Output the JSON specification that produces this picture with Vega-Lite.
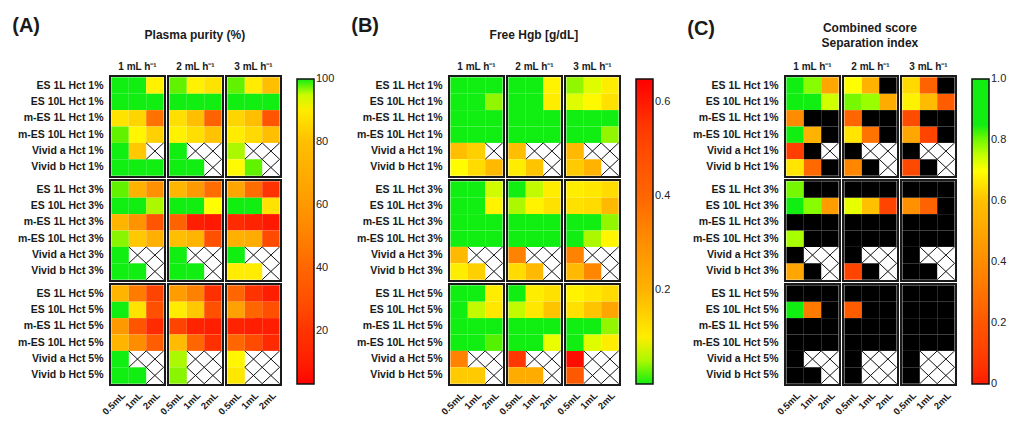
{
  "$schema": "https://vega.github.io/schema/vega-lite/v6.json",
  "padding": {"left": 12, "top": 16, "right": 0, "bottom": 0},
  "background": "white",
  "data": {"values": [
    {"p":"A","h":1,"f":1,"s":"ES 1L","a":98,"b":98,"c":91},
    {"p":"A","h":1,"f":1,"s":"ES 10L","a":99,"b":99,"c":99},
    {"p":"A","h":1,"f":1,"s":"m-ES 1L","a":88,"b":85,"c":44},
    {"p":"A","h":1,"f":1,"s":"m-ES 10L","a":96.5,"b":92,"c":84},
    {"p":"A","h":1,"f":1,"s":"Vivid a","a":99,"b":82},
    {"p":"A","h":1,"f":1,"s":"Vivid b","a":99,"b":99,"c":99},
    {"p":"A","h":1,"f":2,"s":"ES 1L","a":96.5,"b":91,"c":88},
    {"p":"A","h":1,"f":2,"s":"ES 10L","a":99,"b":99,"c":99},
    {"p":"A","h":1,"f":2,"s":"m-ES 1L","a":87,"b":80,"c":38},
    {"p":"A","h":1,"f":2,"s":"m-ES 10L","a":91,"b":87,"c":81},
    {"p":"A","h":1,"f":2,"s":"Vivid a","a":99},
    {"p":"A","h":1,"f":2,"s":"Vivid b","a":99,"b":99},
    {"p":"A","h":1,"f":3,"s":"ES 1L","a":96.5,"b":90,"c":80},
    {"p":"A","h":1,"f":3,"s":"ES 10L","a":99,"b":99,"c":99},
    {"p":"A","h":1,"f":3,"s":"m-ES 1L","a":85,"b":80,"c":32},
    {"p":"A","h":1,"f":3,"s":"m-ES 10L","a":90,"b":86,"c":80},
    {"p":"A","h":1,"f":3,"s":"Vivid a","a":95.5},
    {"p":"A","h":1,"f":3,"s":"Vivid b","a":93,"b":96.5},
    {"p":"A","h":3,"f":1,"s":"ES 1L","a":96.5,"b":73,"c":56},
    {"p":"A","h":3,"f":1,"s":"ES 10L","a":99,"b":99,"c":95.5},
    {"p":"A","h":3,"f":1,"s":"m-ES 1L","a":74,"b":58,"c":32},
    {"p":"A","h":3,"f":1,"s":"m-ES 10L","a":96,"b":82,"c":72},
    {"p":"A","h":3,"f":1,"s":"Vivid a","a":99},
    {"p":"A","h":3,"f":1,"s":"Vivid b","a":99,"b":99},
    {"p":"A","h":3,"f":2,"s":"ES 1L","a":75,"b":60,"c":42},
    {"p":"A","h":3,"f":2,"s":"ES 10L","a":99,"b":99,"c":94},
    {"p":"A","h":3,"f":2,"s":"m-ES 1L","a":38,"b":10,"c":8},
    {"p":"A","h":3,"f":2,"s":"m-ES 10L","a":80,"b":74,"c":30},
    {"p":"A","h":3,"f":2,"s":"Vivid a","a":97},
    {"p":"A","h":3,"f":2,"s":"Vivid b","a":99,"b":99},
    {"p":"A","h":3,"f":3,"s":"ES 1L","a":66,"b":42,"c":20},
    {"p":"A","h":3,"f":3,"s":"ES 10L","a":99,"b":99,"c":88},
    {"p":"A","h":3,"f":3,"s":"m-ES 1L","a":15,"b":12,"c":8},
    {"p":"A","h":3,"f":3,"s":"m-ES 10L","a":72,"b":70,"c":28},
    {"p":"A","h":3,"f":3,"s":"Vivid a","a":98},
    {"p":"A","h":3,"f":3,"s":"Vivid b","a":90,"b":90},
    {"p":"A","h":5,"f":1,"s":"ES 1L","a":74,"b":48,"c":25},
    {"p":"A","h":5,"f":1,"s":"ES 10L","a":99,"b":88,"c":30},
    {"p":"A","h":5,"f":1,"s":"m-ES 1L","a":60,"b":32,"c":15},
    {"p":"A","h":5,"f":1,"s":"m-ES 10L","a":74,"b":55,"c":36},
    {"p":"A","h":5,"f":1,"s":"Vivid a","a":99},
    {"p":"A","h":5,"f":1,"s":"Vivid b","a":99,"b":99},
    {"p":"A","h":5,"f":2,"s":"ES 1L","a":62,"b":50,"c":18},
    {"p":"A","h":5,"f":2,"s":"ES 10L","a":90,"b":82,"c":30},
    {"p":"A","h":5,"f":2,"s":"m-ES 1L","a":25,"b":12,"c":10},
    {"p":"A","h":5,"f":2,"s":"m-ES 10L","a":78,"b":40,"c":18},
    {"p":"A","h":5,"f":2,"s":"Vivid a","a":95.5},
    {"p":"A","h":5,"f":2,"s":"Vivid b","a":96},
    {"p":"A","h":5,"f":3,"s":"ES 1L","a":40,"b":20,"c":10},
    {"p":"A","h":5,"f":3,"s":"ES 10L","a":64,"b":40,"c":30},
    {"p":"A","h":5,"f":3,"s":"m-ES 1L","a":12,"b":10,"c":10},
    {"p":"A","h":5,"f":3,"s":"m-ES 10L","a":40,"b":28,"c":15},
    {"p":"A","h":5,"f":3,"s":"Vivid a","a":92},
    {"p":"A","h":5,"f":3,"s":"Vivid b","a":89},

    {"p":"B","h":1,"f":1,"s":"ES 1L","a":0.01,"b":0.01,"c":0.01},
    {"p":"B","h":1,"f":1,"s":"ES 10L","a":0.01,"b":0.01,"c":0.045},
    {"p":"B","h":1,"f":1,"s":"m-ES 1L","a":0.01,"b":0.01,"c":0.01},
    {"p":"B","h":1,"f":1,"s":"m-ES 10L","a":0.01,"b":0.01,"c":0.01},
    {"p":"B","h":1,"f":1,"s":"Vivid a","a":0.18,"b":0.15},
    {"p":"B","h":1,"f":1,"s":"Vivid b","a":0.075,"b":0.13,"c":0.19},
    {"p":"B","h":1,"f":2,"s":"ES 1L","a":0.01,"b":0.01,"c":0.09},
    {"p":"B","h":1,"f":2,"s":"ES 10L","a":0.01,"b":0.01,"c":0.1},
    {"p":"B","h":1,"f":2,"s":"m-ES 1L","a":0.01,"b":0.01,"c":0.01},
    {"p":"B","h":1,"f":2,"s":"m-ES 10L","a":0.01,"b":0.01,"c":0.01},
    {"p":"B","h":1,"f":2,"s":"Vivid a","a":0.18},
    {"p":"B","h":1,"f":2,"s":"Vivid b","a":0.1,"b":0.17},
    {"p":"B","h":1,"f":3,"s":"ES 1L","a":0.045,"b":0.062,"c":0.1},
    {"p":"B","h":1,"f":3,"s":"ES 10L","a":0.062,"b":0.08,"c":0.12},
    {"p":"B","h":1,"f":3,"s":"m-ES 1L","a":0.01,"b":0.01,"c":0.01},
    {"p":"B","h":1,"f":3,"s":"m-ES 10L","a":0.01,"b":0.01,"c":0.045},
    {"p":"B","h":1,"f":3,"s":"Vivid a","a":0.19},
    {"p":"B","h":1,"f":3,"s":"Vivid b","a":0.16,"b":0.2},
    {"p":"B","h":3,"f":1,"s":"ES 1L","a":0.01,"b":0.01,"c":0.058},
    {"p":"B","h":3,"f":1,"s":"ES 10L","a":0.01,"b":0.01,"c":0.09},
    {"p":"B","h":3,"f":1,"s":"m-ES 1L","a":0.01,"b":0.01,"c":0.01},
    {"p":"B","h":3,"f":1,"s":"m-ES 10L","a":0.01,"b":0.01,"c":0.01},
    {"p":"B","h":3,"f":1,"s":"Vivid a","a":0.19},
    {"p":"B","h":3,"f":1,"s":"Vivid b","a":0.1,"b":0.15},
    {"p":"B","h":3,"f":2,"s":"ES 1L","a":0.01,"b":0.055,"c":0.1},
    {"p":"B","h":3,"f":2,"s":"ES 10L","a":0.05,"b":0.09,"c":0.12},
    {"p":"B","h":3,"f":2,"s":"m-ES 1L","a":0.01,"b":0.01,"c":0.01},
    {"p":"B","h":3,"f":2,"s":"m-ES 10L","a":0.01,"b":0.01,"c":0.01},
    {"p":"B","h":3,"f":2,"s":"Vivid a","a":0.33},
    {"p":"B","h":3,"f":2,"s":"Vivid b","a":0.13,"b":0.19},
    {"p":"B","h":3,"f":3,"s":"ES 1L","a":0.1,"b":0.11,"c":0.13},
    {"p":"B","h":3,"f":3,"s":"ES 10L","a":0.12,"b":0.13,"c":0.19},
    {"p":"B","h":3,"f":3,"s":"m-ES 1L","a":0.01,"b":0.01,"c":0.045},
    {"p":"B","h":3,"f":3,"s":"m-ES 10L","a":0.02,"b":0.05,"c":0.085},
    {"p":"B","h":3,"f":3,"s":"Vivid a","a":0.33},
    {"p":"B","h":3,"f":3,"s":"Vivid b","a":0.19,"b":0.32},
    {"p":"B","h":5,"f":1,"s":"ES 1L","a":0.01,"b":0.02,"c":0.1},
    {"p":"B","h":5,"f":1,"s":"ES 10L","a":0.01,"b":0.055,"c":0.11},
    {"p":"B","h":5,"f":1,"s":"m-ES 1L","a":0.01,"b":0.01,"c":0.01},
    {"p":"B","h":5,"f":1,"s":"m-ES 10L","a":0.01,"b":0.01,"c":0.035},
    {"p":"B","h":5,"f":1,"s":"Vivid a","a":0.33},
    {"p":"B","h":5,"f":1,"s":"Vivid b","a":0.16,"b":0.16},
    {"p":"B","h":5,"f":2,"s":"ES 1L","a":0.02,"b":0.1,"c":0.12},
    {"p":"B","h":5,"f":2,"s":"ES 10L","a":0.055,"b":0.11,"c":0.17},
    {"p":"B","h":5,"f":2,"s":"m-ES 1L","a":0.01,"b":0.01,"c":0.01},
    {"p":"B","h":5,"f":2,"s":"m-ES 10L","a":0.01,"b":0.01,"c":0.065},
    {"p":"B","h":5,"f":2,"s":"Vivid a","a":0.55},
    {"p":"B","h":5,"f":2,"s":"Vivid b","a":0.22,"b":0.22},
    {"p":"B","h":5,"f":3,"s":"ES 1L","a":0.09,"b":0.11,"c":0.13},
    {"p":"B","h":5,"f":3,"s":"ES 10L","a":0.12,"b":0.17,"c":0.24},
    {"p":"B","h":5,"f":3,"s":"m-ES 1L","a":0.01,"b":0.01,"c":0.045},
    {"p":"B","h":5,"f":3,"s":"m-ES 10L","a":0.03,"b":0.062,"c":0.1},
    {"p":"B","h":5,"f":3,"s":"Vivid a","a":0.63},
    {"p":"B","h":5,"f":3,"s":"Vivid b","a":0.45},

    {"p":"C","h":1,"f":1,"s":"ES 1L","a":0.9,"b":0.79,"c":0.5},
    {"p":"C","h":1,"f":1,"s":"ES 10L","a":0.9,"b":0.9,"c":0.74},
    {"p":"C","h":1,"f":1,"s":"m-ES 1L","a":0.4,"b":null,"c":null},
    {"p":"C","h":1,"f":1,"s":"m-ES 10L","a":0.84,"b":0.55,"c":null},
    {"p":"C","h":1,"f":1,"s":"Vivid a","a":0.1,"b":null},
    {"p":"C","h":1,"f":1,"s":"Vivid b","a":0.66,"b":0.27,"c":null},
    {"p":"C","h":1,"f":2,"s":"ES 1L","a":0.7,"b":0.55,"c":null},
    {"p":"C","h":1,"f":2,"s":"ES 10L","a":0.8,"b":0.78,"c":0.52},
    {"p":"C","h":1,"f":2,"s":"m-ES 1L","a":0.25,"b":null,"c":null},
    {"p":"C","h":1,"f":2,"s":"m-ES 10L","a":0.66,"b":0.3,"c":null},
    {"p":"C","h":1,"f":2,"s":"Vivid a","a":null},
    {"p":"C","h":1,"f":2,"s":"Vivid b","a":0.38,"b":null},
    {"p":"C","h":1,"f":3,"s":"ES 1L","a":0.64,"b":0.24,"c":null},
    {"p":"C","h":1,"f":3,"s":"ES 10L","a":0.68,"b":0.58,"c":0.22},
    {"p":"C","h":1,"f":3,"s":"m-ES 1L","a":0.15,"b":null,"c":null},
    {"p":"C","h":1,"f":3,"s":"m-ES 10L","a":0.5,"b":0.12,"c":null},
    {"p":"C","h":1,"f":3,"s":"Vivid a","a":null},
    {"p":"C","h":1,"f":3,"s":"Vivid b","a":0.14,"b":null},
    {"p":"C","h":3,"f":1,"s":"ES 1L","a":0.8,"b":null,"c":null},
    {"p":"C","h":3,"f":1,"s":"ES 10L","a":0.88,"b":0.79,"c":0.46},
    {"p":"C","h":3,"f":1,"s":"m-ES 1L","a":null,"b":null,"c":null},
    {"p":"C","h":3,"f":1,"s":"m-ES 10L","a":0.77,"b":null,"c":null},
    {"p":"C","h":3,"f":1,"s":"Vivid a","a":null},
    {"p":"C","h":3,"f":1,"s":"Vivid b","a":0.5,"b":null},
    {"p":"C","h":3,"f":2,"s":"ES 1L","a":null,"b":null,"c":null},
    {"p":"C","h":3,"f":2,"s":"ES 10L","a":0.72,"b":0.6,"c":0.12},
    {"p":"C","h":3,"f":2,"s":"m-ES 1L","a":null,"b":null,"c":null},
    {"p":"C","h":3,"f":2,"s":"m-ES 10L","a":null,"b":null,"c":null},
    {"p":"C","h":3,"f":2,"s":"Vivid a","a":null},
    {"p":"C","h":3,"f":2,"s":"Vivid b","a":0.12,"b":null},
    {"p":"C","h":3,"f":3,"s":"ES 1L","a":null,"b":null,"c":null},
    {"p":"C","h":3,"f":3,"s":"ES 10L","a":0.42,"b":0.24,"c":null},
    {"p":"C","h":3,"f":3,"s":"m-ES 1L","a":null,"b":null,"c":null},
    {"p":"C","h":3,"f":3,"s":"m-ES 10L","a":null,"b":null,"c":null},
    {"p":"C","h":3,"f":3,"s":"Vivid a","a":null},
    {"p":"C","h":3,"f":3,"s":"Vivid b","a":null,"b":null},
    {"p":"C","h":5,"f":1,"s":"ES 1L","a":null,"b":null,"c":null},
    {"p":"C","h":5,"f":1,"s":"ES 10L","a":0.88,"b":0.33,"c":null},
    {"p":"C","h":5,"f":1,"s":"m-ES 1L","a":null,"b":null,"c":null},
    {"p":"C","h":5,"f":1,"s":"m-ES 10L","a":null,"b":null,"c":null},
    {"p":"C","h":5,"f":1,"s":"Vivid a","a":null},
    {"p":"C","h":5,"f":1,"s":"Vivid b","a":null,"b":null},
    {"p":"C","h":5,"f":2,"s":"ES 1L","a":null,"b":null,"c":null},
    {"p":"C","h":5,"f":2,"s":"ES 10L","a":0.22,"b":null,"c":null},
    {"p":"C","h":5,"f":2,"s":"m-ES 1L","a":null,"b":null,"c":null},
    {"p":"C","h":5,"f":2,"s":"m-ES 10L","a":null,"b":null,"c":null},
    {"p":"C","h":5,"f":2,"s":"Vivid a","a":null},
    {"p":"C","h":5,"f":2,"s":"Vivid b","a":null},
    {"p":"C","h":5,"f":3,"s":"ES 1L","a":null,"b":null,"c":null},
    {"p":"C","h":5,"f":3,"s":"ES 10L","a":null,"b":null,"c":null},
    {"p":"C","h":5,"f":3,"s":"m-ES 1L","a":null,"b":null,"c":null},
    {"p":"C","h":5,"f":3,"s":"m-ES 10L","a":null,"b":null,"c":null},
    {"p":"C","h":5,"f":3,"s":"Vivid a","a":null},
    {"p":"C","h":5,"f":3,"s":"Vivid b","a":null}
  ]},
  "spacing": 13,
  "resolve": {"scale": {"color": "independent"}, "legend": {"color": "independent"}},
  "hconcat": [
    {
      "title": {"text": "(A)", "anchor": "start", "fontSize": 20, "fontWeight": "bold", "offset": -7, "dx": -5},
      "spacing": 0,
      "resolve": {"scale": {"color": "shared"}, "legend": {"color": "shared"}},
      "vconcat": [
        {
          "transform": [{"filter": "datum.p == 'A' && datum.h == 1"}, {"fold": ["a", "b", "c"], "as": ["v", "val"]}],
          "title": {"text": "Plasma purity (%)", "anchor": "middle", "fontSize": 12, "fontWeight": "bold", "offset": 20, "dx": 45},
          "facet": {"column": {"field": "f", "type": "ordinal", "title": null, "header": {"labelExpr": "datum.value + ' mL h⁻¹'", "labelFontWeight": "bold", "labelFontSize": 10, "labelPadding": 3, "labelColor": "#1a1a1a"}}},
          "spacing": 0,
          "spec": {
            "width": 55, "height": 101,
            "encoding": {
              "x": {"field": "v", "type": "nominal", "title": null, "scale": {"domain": ["a", "b", "c"], "paddingInner": 0, "paddingOuter": 0.08}, "axis": null},
              "y": {"field": "s", "type": "nominal", "title": null, "scale": {"domain": ["ES 1L", "ES 10L", "m-ES 1L", "m-ES 10L", "Vivid a", "Vivid b"], "paddingInner": 0, "paddingOuter": 0.08}, "axis": {"labelExpr": "datum.value + ' Hct 1%'"}}
            },
            "layer": [
              {"transform": [{"filter": "isValid(datum.val)"}], "mark": {"type": "rect"}, "encoding": {"color": {"field": "val", "type": "quantitative", "scale": {"domain": [3, 20, 40, 60, 80, 94, 97, 100], "range": ["#ff0000", "#ff3300", "#ff6600", "#ff9900", "#ffbf00", "#ffff00", "#11ee11", "#11ee11"]}, "legend": {"title": null, "values": [20, 40, 60, 80, 100], "gradientLength": 305, "gradientThickness": 17, "encode": {"labels": {"update": {"baseline": {"value": "middle"}}}}}}}},
              {"transform": [{"filter": "datum.val === null"}], "mark": {"type": "rect", "color": "#000000"}},
              {"transform": [{"filter": "!isDefined(datum.val)"}], "mark": {"type": "point", "shape": "M-1,-0.94L1,0.94M-1,0.94L1,-0.94", "size": 303, "filled": false, "color": "#111111", "strokeWidth": 1, "opacity": 1}}
            ]
          }
        },
        {
          "transform": [{"filter": "datum.p == 'A' && datum.h == 3"}, {"fold": ["a", "b", "c"], "as": ["v", "val"]}],
          "facet": {"column": {"field": "f", "type": "ordinal", "title": null, "header": {"labels": false}}},
          "spacing": 0,
          "spec": {
            "width": 55, "height": 101,
            "encoding": {
              "x": {"field": "v", "type": "nominal", "title": null, "scale": {"domain": ["a", "b", "c"], "paddingInner": 0, "paddingOuter": 0.08}, "axis": null},
              "y": {"field": "s", "type": "nominal", "title": null, "scale": {"domain": ["ES 1L", "ES 10L", "m-ES 1L", "m-ES 10L", "Vivid a", "Vivid b"], "paddingInner": 0, "paddingOuter": 0.08}, "axis": {"labelExpr": "datum.value + ' Hct 3%'"}}
            },
            "layer": [
              {"transform": [{"filter": "isValid(datum.val)"}], "mark": {"type": "rect"}, "encoding": {"color": {"field": "val", "type": "quantitative", "scale": {"domain": [3, 20, 40, 60, 80, 94, 97, 100], "range": ["#ff0000", "#ff3300", "#ff6600", "#ff9900", "#ffbf00", "#ffff00", "#11ee11", "#11ee11"]}, "legend": {"title": null, "values": [20, 40, 60, 80, 100], "gradientLength": 305, "gradientThickness": 17, "encode": {"labels": {"update": {"baseline": {"value": "middle"}}}}}}}},
              {"transform": [{"filter": "datum.val === null"}], "mark": {"type": "rect", "color": "#000000"}},
              {"transform": [{"filter": "!isDefined(datum.val)"}], "mark": {"type": "point", "shape": "M-1,-0.94L1,0.94M-1,0.94L1,-0.94", "size": 303, "filled": false, "color": "#111111", "strokeWidth": 1, "opacity": 1}}
            ]
          }
        },
        {
          "transform": [{"filter": "datum.p == 'A' && datum.h == 5"}, {"fold": ["a", "b", "c"], "as": ["v", "val"]}],
          "facet": {"column": {"field": "f", "type": "ordinal", "title": null, "header": {"labels": false}}},
          "spacing": 0,
          "spec": {
            "width": 55, "height": 101,
            "encoding": {
              "x": {"field": "v", "type": "nominal", "title": null, "scale": {"domain": ["a", "b", "c"], "paddingInner": 0, "paddingOuter": 0.08}, "axis": {"labelExpr": "datum.value == 'a' ? '0.5mL' : datum.value == 'b' ? '1mL' : '2mL'", "labelAngle": -45, "labelFontSize": 9.5, "labelPadding": 3}},
              "y": {"field": "s", "type": "nominal", "title": null, "scale": {"domain": ["ES 1L", "ES 10L", "m-ES 1L", "m-ES 10L", "Vivid a", "Vivid b"], "paddingInner": 0, "paddingOuter": 0.08}, "axis": {"labelExpr": "datum.value + ' Hct 5%'"}}
            },
            "layer": [
              {"transform": [{"filter": "isValid(datum.val)"}], "mark": {"type": "rect"}, "encoding": {"color": {"field": "val", "type": "quantitative", "scale": {"domain": [3, 20, 40, 60, 80, 94, 97, 100], "range": ["#ff0000", "#ff3300", "#ff6600", "#ff9900", "#ffbf00", "#ffff00", "#11ee11", "#11ee11"]}, "legend": {"title": null, "values": [20, 40, 60, 80, 100], "gradientLength": 305, "gradientThickness": 17, "encode": {"labels": {"update": {"baseline": {"value": "middle"}}}}}}}},
              {"transform": [{"filter": "datum.val === null"}], "mark": {"type": "rect", "color": "#000000"}},
              {"transform": [{"filter": "!isDefined(datum.val)"}], "mark": {"type": "point", "shape": "M-1,-0.94L1,0.94M-1,0.94L1,-0.94", "size": 303, "filled": false, "color": "#111111", "strokeWidth": 1, "opacity": 1}}
            ]
          }
        }
      ]
    },
    {
      "title": {"text": "(B)", "anchor": "start", "fontSize": 20, "fontWeight": "bold", "offset": -7, "dx": -5},
      "spacing": 0,
      "resolve": {"scale": {"color": "shared"}, "legend": {"color": "shared"}},
      "vconcat": [
        {
          "transform": [{"filter": "datum.p == 'B' && datum.h == 1"}, {"fold": ["a", "b", "c"], "as": ["v", "val"]}],
          "title": {"text": "Free Hgb [g/dL]", "anchor": "middle", "fontSize": 12, "fontWeight": "bold", "offset": 20, "dx": 45},
          "facet": {"column": {"field": "f", "type": "ordinal", "title": null, "header": {"labelExpr": "datum.value + ' mL h⁻¹'", "labelFontWeight": "bold", "labelFontSize": 10, "labelPadding": 3, "labelColor": "#1a1a1a"}}},
          "spacing": 0,
          "spec": {
            "width": 55, "height": 101,
            "encoding": {
              "x": {"field": "v", "type": "nominal", "title": null, "scale": {"domain": ["a", "b", "c"], "paddingInner": 0, "paddingOuter": 0.08}, "axis": null},
              "y": {"field": "s", "type": "nominal", "title": null, "scale": {"domain": ["ES 1L", "ES 10L", "m-ES 1L", "m-ES 10L", "Vivid a", "Vivid b"], "paddingInner": 0, "paddingOuter": 0.08}, "axis": {"labelExpr": "datum.value + ' Hct 1%'"}}
            },
            "layer": [
              {"transform": [{"filter": "isValid(datum.val)"}], "mark": {"type": "rect"}, "encoding": {"color": {"field": "val", "type": "quantitative", "scale": {"domain": [0, 0.03, 0.07, 0.2, 0.4, 0.6, 0.65], "range": ["#11ee11", "#11ee11", "#ffff00", "#ffb300", "#ff6600", "#ff1a00", "#ff0000"]}, "legend": {"title": null, "values": [0.2, 0.4, 0.6], "format": ".1f", "gradientLength": 305, "gradientThickness": 17, "encode": {"labels": {"update": {"baseline": {"value": "middle"}}}}}}}},
              {"transform": [{"filter": "datum.val === null"}], "mark": {"type": "rect", "color": "#000000"}},
              {"transform": [{"filter": "!isDefined(datum.val)"}], "mark": {"type": "point", "shape": "M-1,-0.94L1,0.94M-1,0.94L1,-0.94", "size": 303, "filled": false, "color": "#111111", "strokeWidth": 1, "opacity": 1}}
            ]
          }
        },
        {
          "transform": [{"filter": "datum.p == 'B' && datum.h == 3"}, {"fold": ["a", "b", "c"], "as": ["v", "val"]}],
          "facet": {"column": {"field": "f", "type": "ordinal", "title": null, "header": {"labels": false}}},
          "spacing": 0,
          "spec": {
            "width": 55, "height": 101,
            "encoding": {
              "x": {"field": "v", "type": "nominal", "title": null, "scale": {"domain": ["a", "b", "c"], "paddingInner": 0, "paddingOuter": 0.08}, "axis": null},
              "y": {"field": "s", "type": "nominal", "title": null, "scale": {"domain": ["ES 1L", "ES 10L", "m-ES 1L", "m-ES 10L", "Vivid a", "Vivid b"], "paddingInner": 0, "paddingOuter": 0.08}, "axis": {"labelExpr": "datum.value + ' Hct 3%'"}}
            },
            "layer": [
              {"transform": [{"filter": "isValid(datum.val)"}], "mark": {"type": "rect"}, "encoding": {"color": {"field": "val", "type": "quantitative", "scale": {"domain": [0, 0.03, 0.07, 0.2, 0.4, 0.6, 0.65], "range": ["#11ee11", "#11ee11", "#ffff00", "#ffb300", "#ff6600", "#ff1a00", "#ff0000"]}, "legend": {"title": null, "values": [0.2, 0.4, 0.6], "format": ".1f", "gradientLength": 305, "gradientThickness": 17, "encode": {"labels": {"update": {"baseline": {"value": "middle"}}}}}}}},
              {"transform": [{"filter": "datum.val === null"}], "mark": {"type": "rect", "color": "#000000"}},
              {"transform": [{"filter": "!isDefined(datum.val)"}], "mark": {"type": "point", "shape": "M-1,-0.94L1,0.94M-1,0.94L1,-0.94", "size": 303, "filled": false, "color": "#111111", "strokeWidth": 1, "opacity": 1}}
            ]
          }
        },
        {
          "transform": [{"filter": "datum.p == 'B' && datum.h == 5"}, {"fold": ["a", "b", "c"], "as": ["v", "val"]}],
          "facet": {"column": {"field": "f", "type": "ordinal", "title": null, "header": {"labels": false}}},
          "spacing": 0,
          "spec": {
            "width": 55, "height": 101,
            "encoding": {
              "x": {"field": "v", "type": "nominal", "title": null, "scale": {"domain": ["a", "b", "c"], "paddingInner": 0, "paddingOuter": 0.08}, "axis": {"labelExpr": "datum.value == 'a' ? '0.5mL' : datum.value == 'b' ? '1mL' : '2mL'", "labelAngle": -45, "labelFontSize": 9.5, "labelPadding": 3}},
              "y": {"field": "s", "type": "nominal", "title": null, "scale": {"domain": ["ES 1L", "ES 10L", "m-ES 1L", "m-ES 10L", "Vivid a", "Vivid b"], "paddingInner": 0, "paddingOuter": 0.08}, "axis": {"labelExpr": "datum.value + ' Hct 5%'"}}
            },
            "layer": [
              {"transform": [{"filter": "isValid(datum.val)"}], "mark": {"type": "rect"}, "encoding": {"color": {"field": "val", "type": "quantitative", "scale": {"domain": [0, 0.03, 0.07, 0.2, 0.4, 0.6, 0.65], "range": ["#11ee11", "#11ee11", "#ffff00", "#ffb300", "#ff6600", "#ff1a00", "#ff0000"]}, "legend": {"title": null, "values": [0.2, 0.4, 0.6], "format": ".1f", "gradientLength": 305, "gradientThickness": 17, "encode": {"labels": {"update": {"baseline": {"value": "middle"}}}}}}}},
              {"transform": [{"filter": "datum.val === null"}], "mark": {"type": "rect", "color": "#000000"}},
              {"transform": [{"filter": "!isDefined(datum.val)"}], "mark": {"type": "point", "shape": "M-1,-0.94L1,0.94M-1,0.94L1,-0.94", "size": 303, "filled": false, "color": "#111111", "strokeWidth": 1, "opacity": 1}}
            ]
          }
        }
      ]
    },
    {
      "title": {"text": "(C)", "anchor": "start", "fontSize": 20, "fontWeight": "bold", "offset": -17, "dx": -5},
      "spacing": 0,
      "resolve": {"scale": {"color": "shared"}, "legend": {"color": "shared"}},
      "vconcat": [
        {
          "transform": [{"filter": "datum.p == 'C' && datum.h == 1"}, {"fold": ["a", "b", "c"], "as": ["v", "val"]}],
          "title": {"text": ["Combined score", "Separation index"], "anchor": "middle", "fontSize": 12, "fontWeight": "bold", "lineHeight": 15, "offset": 12.5, "dx": 45},
          "facet": {"column": {"field": "f", "type": "ordinal", "title": null, "header": {"labelExpr": "datum.value + ' mL h⁻¹'", "labelFontWeight": "bold", "labelFontSize": 10, "labelPadding": 3, "labelColor": "#1a1a1a"}}},
          "spacing": 0,
          "spec": {
            "width": 55, "height": 101,
            "encoding": {
              "x": {"field": "v", "type": "nominal", "title": null, "scale": {"domain": ["a", "b", "c"], "paddingInner": 0, "paddingOuter": 0.08}, "axis": null},
              "y": {"field": "s", "type": "nominal", "title": null, "scale": {"domain": ["ES 1L", "ES 10L", "m-ES 1L", "m-ES 10L", "Vivid a", "Vivid b"], "paddingInner": 0, "paddingOuter": 0.08}, "axis": {"labelExpr": "datum.value + ' Hct 1%'"}}
            },
            "layer": [
              {"transform": [{"filter": "isValid(datum.val)"}], "mark": {"type": "rect"}, "encoding": {"color": {"field": "val", "type": "quantitative", "scale": {"domain": [0, 0.2, 0.4, 0.6, 0.7, 0.78, 0.83, 1], "range": ["#ff1a00", "#ff5500", "#ff8c00", "#ffc000", "#ffff00", "#99ff00", "#11ee11", "#11ee11"]}, "legend": {"title": null, "values": [0, 0.2, 0.4, 0.6, 0.8, 1], "labelExpr": "datum.value == 0 ? '0' : format(datum.value, '.1f')", "gradientLength": 305, "gradientThickness": 17, "encode": {"labels": {"update": {"baseline": {"value": "middle"}}}}}}}},
              {"transform": [{"filter": "datum.val === null"}], "mark": {"type": "rect", "color": "#000000"}},
              {"transform": [{"filter": "!isDefined(datum.val)"}], "mark": {"type": "point", "shape": "M-1,-0.94L1,0.94M-1,0.94L1,-0.94", "size": 303, "filled": false, "color": "#111111", "strokeWidth": 1, "opacity": 1}}
            ]
          }
        },
        {
          "transform": [{"filter": "datum.p == 'C' && datum.h == 3"}, {"fold": ["a", "b", "c"], "as": ["v", "val"]}],
          "facet": {"column": {"field": "f", "type": "ordinal", "title": null, "header": {"labels": false}}},
          "spacing": 0,
          "spec": {
            "width": 55, "height": 101,
            "encoding": {
              "x": {"field": "v", "type": "nominal", "title": null, "scale": {"domain": ["a", "b", "c"], "paddingInner": 0, "paddingOuter": 0.08}, "axis": null},
              "y": {"field": "s", "type": "nominal", "title": null, "scale": {"domain": ["ES 1L", "ES 10L", "m-ES 1L", "m-ES 10L", "Vivid a", "Vivid b"], "paddingInner": 0, "paddingOuter": 0.08}, "axis": {"labelExpr": "datum.value + ' Hct 3%'"}}
            },
            "layer": [
              {"transform": [{"filter": "isValid(datum.val)"}], "mark": {"type": "rect"}, "encoding": {"color": {"field": "val", "type": "quantitative", "scale": {"domain": [0, 0.2, 0.4, 0.6, 0.7, 0.78, 0.83, 1], "range": ["#ff1a00", "#ff5500", "#ff8c00", "#ffc000", "#ffff00", "#99ff00", "#11ee11", "#11ee11"]}, "legend": {"title": null, "values": [0, 0.2, 0.4, 0.6, 0.8, 1], "labelExpr": "datum.value == 0 ? '0' : format(datum.value, '.1f')", "gradientLength": 305, "gradientThickness": 17, "encode": {"labels": {"update": {"baseline": {"value": "middle"}}}}}}}},
              {"transform": [{"filter": "datum.val === null"}], "mark": {"type": "rect", "color": "#000000"}},
              {"transform": [{"filter": "!isDefined(datum.val)"}], "mark": {"type": "point", "shape": "M-1,-0.94L1,0.94M-1,0.94L1,-0.94", "size": 303, "filled": false, "color": "#111111", "strokeWidth": 1, "opacity": 1}}
            ]
          }
        },
        {
          "transform": [{"filter": "datum.p == 'C' && datum.h == 5"}, {"fold": ["a", "b", "c"], "as": ["v", "val"]}],
          "facet": {"column": {"field": "f", "type": "ordinal", "title": null, "header": {"labels": false}}},
          "spacing": 0,
          "spec": {
            "width": 55, "height": 101,
            "encoding": {
              "x": {"field": "v", "type": "nominal", "title": null, "scale": {"domain": ["a", "b", "c"], "paddingInner": 0, "paddingOuter": 0.08}, "axis": {"labelExpr": "datum.value == 'a' ? '0.5mL' : datum.value == 'b' ? '1mL' : '2mL'", "labelAngle": -45, "labelFontSize": 9.5, "labelPadding": 3}},
              "y": {"field": "s", "type": "nominal", "title": null, "scale": {"domain": ["ES 1L", "ES 10L", "m-ES 1L", "m-ES 10L", "Vivid a", "Vivid b"], "paddingInner": 0, "paddingOuter": 0.08}, "axis": {"labelExpr": "datum.value + ' Hct 5%'"}}
            },
            "layer": [
              {"transform": [{"filter": "isValid(datum.val)"}], "mark": {"type": "rect"}, "encoding": {"color": {"field": "val", "type": "quantitative", "scale": {"domain": [0, 0.2, 0.4, 0.6, 0.7, 0.78, 0.83, 1], "range": ["#ff1a00", "#ff5500", "#ff8c00", "#ffc000", "#ffff00", "#99ff00", "#11ee11", "#11ee11"]}, "legend": {"title": null, "values": [0, 0.2, 0.4, 0.6, 0.8, 1], "labelExpr": "datum.value == 0 ? '0' : format(datum.value, '.1f')", "gradientLength": 305, "gradientThickness": 17, "encode": {"labels": {"update": {"baseline": {"value": "middle"}}}}}}}},
              {"transform": [{"filter": "datum.val === null"}], "mark": {"type": "rect", "color": "#000000"}},
              {"transform": [{"filter": "!isDefined(datum.val)"}], "mark": {"type": "point", "shape": "M-1,-0.94L1,0.94M-1,0.94L1,-0.94", "size": 303, "filled": false, "color": "#111111", "strokeWidth": 1, "opacity": 1}}
            ]
          }
        }
      ]
    }
  ],
  "config": {
    "font": "Liberation Sans",
    "view": {"stroke": "#1a1a1a", "strokeWidth": 2},
    "axis": {"ticks": false, "domain": false, "grid": false, "labelFontWeight": "bold", "labelFontSize": 10.5, "labelColor": "#1a1a1a", "labelPadding": 6},
    "title": {"color": "#1a1a1a"},
    "legend": {"gradientStrokeColor": "#111111", "gradientStrokeWidth": 1.5, "labelFontSize": 11, "labelColor": "#222222", "labelOffset": 6, "offset": 11, "padding": 3}
  }
}
